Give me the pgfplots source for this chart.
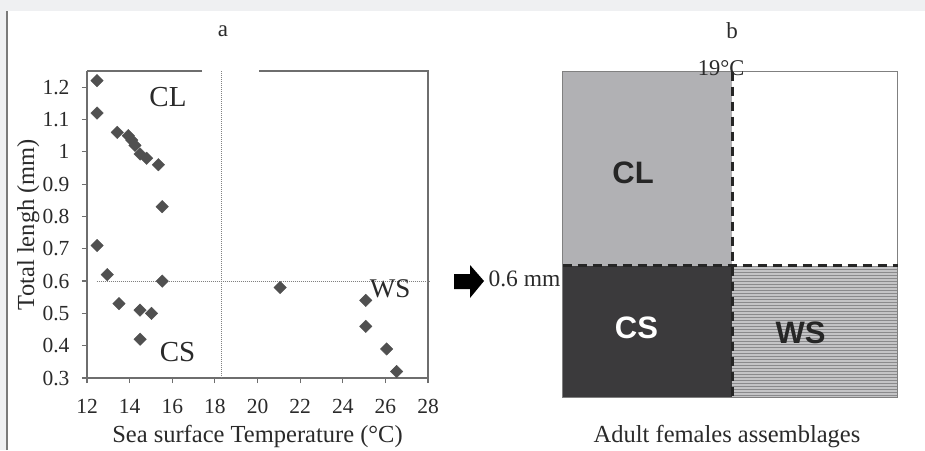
\documentclass[border=0pt]{standalone}
\usepackage{fontspec}
\setmainfont{Liberation Serif}
\newfontfamily\arial{Liberation Sans}
\usepackage{pgfplots}
\pgfplotsset{compat=1.18}
\usetikzlibrary{patterns}
\definecolor{bggray}{HTML}{EFF0F2}
\definecolor{framegray}{HTML}{7A7A7A}
\definecolor{axgray}{HTML}{6E6E6E}
\definecolor{markgray}{HTML}{505050}
\definecolor{clgray}{HTML}{B1B1B4}
\definecolor{csgray}{HTML}{3B3A3C}
\definecolor{wsbase}{HTML}{C4C4C6}
\definecolor{wsline}{HTML}{8A8A8C}
\definecolor{txt}{HTML}{2A2A2A}

\begin{document}
\begin{tikzpicture}
\path[use as bounding box] (0pt,0pt) rectangle (925pt,450pt);
\fill[white] (0pt,0pt) rectangle (925pt,450pt);
\fill[bggray] (0pt,439.3pt) rectangle (925pt,450pt);
\fill[bggray] (0pt,0pt) rectangle (6pt,439.3pt);
\draw[framegray, line width=2pt] (7pt,0pt) -- (7pt,439.3pt);

% panel a
\begin{axis}[
    at={(87pt,72pt)}, anchor=south west,
    scale only axis, width=341pt, height=307pt,
    xmin=12, xmax=28, ymin=0.3, ymax=1.25,
    xtick={12,14,16,18,20,22,24,26,28},
    ytick={0.3,0.4,0.5,0.6,0.7,0.8,0.9,1,1.1,1.2},
    axis x line*=bottom, axis y line*=left,
    axis line style={axgray, line width=1.3pt},
    tick align=outside, major tick length=5pt,
    tick style={axgray, line width=1.2pt},
    tick label style={font=\fontsize{21.5}{24}\selectfont, text=txt},
    x tick label style={yshift=-13pt},
    y tick label style={xshift=-9pt},
    /pgf/number format/assume math mode=true,
    xlabel={Sea surface Temperature (°C)},
    ylabel={Total lengh (mm)},
    label style={font=\fontsize{24.5}{27}\selectfont, text=txt},
    xlabel style={at={(axis description cs:0.5,-0.192)}, anchor=center},
    ylabel style={at={(axis description cs:-0.172,0.5)}, anchor=center, rotate=0},
    clip=false,
]
\draw[axgray, line width=1.3pt] (axis cs:28,0.3) -- (axis cs:28,1.25) -- (axis cs:20.07,1.25);
\draw[axgray, line width=1.3pt] (axis cs:17.4,1.25) -- (axis cs:12,1.25);
\draw[gray, densely dotted, line width=1pt] (axis cs:18.3,0.3) -- (axis cs:18.3,1.25);
\draw[gray, densely dotted, line width=1pt] (axis cs:12.45,0.6) -- (axis cs:28.1,0.6);
\addplot[only marks, mark=square*, mark size=4.4pt,
    mark options={rotate=45, fill=markgray, draw=markgray}] coordinates {
    (12.47,1.22) (12.47,1.12) (13.42,1.06) (13.94,1.05) (14.1,1.036)
    (14.25,1.02) (14.49,0.993) (14.8,0.98) (15.35,0.96) (15.53,0.83)
    (12.47,0.71) (12.95,0.62) (15.53,0.60) (13.5,0.53) (14.49,0.51)
    (15.03,0.50) (14.49,0.42) (21.06,0.58) (25.08,0.54) (25.08,0.46)
    (26.06,0.39) (26.53,0.32)
};
\node[font=\fontsize{29}{32}\selectfont, text=txt] at (axis cs:15.8,1.17) {CL};
\node[font=\fontsize{29}{32}\selectfont, text=txt] at (axis cs:16.25,0.38) {CS};
\node[font=\fontsize{27}{30}\selectfont, text=txt] at (axis cs:26.22,0.575) {WS};
\end{axis}
\node[font=\fontsize{23}{26}\selectfont, text=txt] at (223pt,419pt) {a};

% panel b
\begin{axis}[
    at={(562.7pt,52.3pt)}, anchor=south west,
    scale only axis, width=335pt, height=326pt,
    xmin=0, xmax=1, ymin=0, ymax=1,
    hide axis, clip=false,
]
\addplot[draw=none, fill=clgray] coordinates {(0,0.405) (0.506,0.405) (0.506,1) (0,1)} -- cycle;
\addplot[draw=none, fill=csgray] coordinates {(0,0) (0.506,0) (0.506,0.405) (0,0.405)} -- cycle;
\addplot[draw=none, fill=wsbase] coordinates {(0.506,0) (1,0) (1,0.405) (0.506,0.405)} -- cycle;
\addplot[draw=none, pattern=horizontal lines, pattern color=wsline] coordinates {(0.506,0) (1,0) (1,0.405) (0.506,0.405)} -- cycle;
\draw[gray, line width=1.5pt] (axis cs:0,0) rectangle (axis cs:1,1);
\draw[black!85, line width=2.6pt, dash pattern=on 9pt off 6pt] (axis cs:0,0.405) -- (axis cs:1,0.405);
\draw[black!85, line width=2.6pt, dash pattern=on 9pt off 6pt] (axis cs:0.506,1) -- (axis cs:0.506,0);
\node[font=\arial\bfseries\fontsize{31}{34}\selectfont, text=black!85] at (axis cs:0.21,0.69) {CL};
\node[font=\arial\bfseries\fontsize{31}{34}\selectfont, text=white] at (axis cs:0.22,0.214) {CS};
\node[font=\arial\bfseries\fontsize{31}{34}\selectfont, text=black!85] at (axis cs:0.71,0.2) {WS};
\end{axis}
\node[font=\fontsize{23}{26}\selectfont, text=txt] at (732pt,419pt) {b};
\node[font=\fontsize{22.5}{25}\selectfont, text=txt] at (721pt,382pt) {19°C};
\fill[black] (454pt,176pt) -- (470pt,176pt) -- (470pt,185pt) -- (484pt,169pt)
    -- (470pt,152pt) -- (470pt,161pt) -- (454pt,161pt) -- cycle;
\node[font=\fontsize{23.5}{26}\selectfont, text=txt, anchor=west] at (485pt,171pt) {0.6 mm};
\node[font=\fontsize{24.5}{27}\selectfont, text=txt] at (727pt,13pt) {Adult females assemblages};
\end{tikzpicture}
\end{document}
